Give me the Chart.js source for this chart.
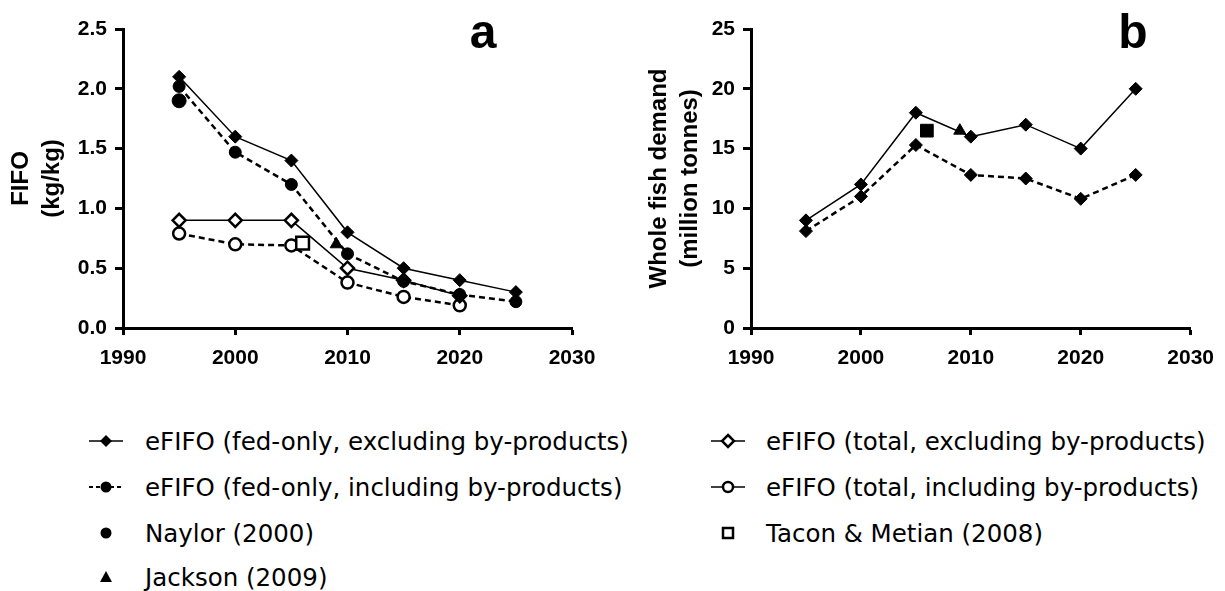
<!DOCTYPE html>
<html>
<head>
<meta charset="utf-8">
<script src="https://cdn.jsdelivr.net/npm/chart.js@4/dist/chart.umd.min.js"></script>
<style>
  body { margin: 0; background: #fff; width: 1225px; height: 591px; position: relative; overflow: hidden; }
  .box { position: absolute; top: 0; }
  .letter { position: absolute; font: bold 48px "Liberation Sans", Arial, sans-serif; transform: translate(-50%, -50%); line-height: 1; }
  .leg { position: absolute; font: 24.5px "DejaVu Sans", sans-serif; color: #000; white-space: nowrap; transform: translateY(-50%); }
  .sym { position: absolute; transform: translateY(-50%); }
</style>
</head>
<body>
<div class="box" style="left:0"><canvas id="graficoA" width="610" height="380"></canvas></div>
<div class="box" style="left:620px"><canvas id="graficoB" width="605" height="380"></canvas></div>
<div class="letter" style="left:483px;top:32px">a</div>
<div class="letter" style="left:1133px;top:32px">b</div>
<div id="legenda"></div>

<script>
// dados
const anos = [1995, 2000, 2005, 2010, 2015, 2020, 2025];
const anosTotal = [1995, 2000, 2005, 2010, 2015, 2020];

// painel a - FIFO (kg/kg)
const fedExclA = [2.1, 1.6, 1.4, 0.8, 0.5, 0.4, 0.3];
const fedInclA = [2.02, 1.47, 1.2, 0.62, 0.39, 0.28, 0.22];
const totalExclA = [0.9, 0.9, 0.9, 0.5, 0.4, 0.27];
const totalInclA = [0.79, 0.7, 0.69, 0.38, 0.26, 0.19];

// painel b - procura de peixe inteiro (milhões de toneladas)
const fedExclB = [9, 12, 18, 16, 17, 15, 20];
const fedInclB = [8.1, 11.0, 15.3, 12.8, 12.5, 10.8, 12.8];

// estudos de referência
const naylorAno = [1995];
const naylorA = [1.9];
const jacksonAno = [2009];
const jacksonA = [0.7];
const jacksonB = [16.5];
const taconAno = [2006];
const taconA = [0.71];
const taconB = [16.5];

const ticksX = [1990, 2000, 2010, 2020, 2030];

const legendas = [
  'eFIFO (fed-only, excluding by-products)',
  'eFIFO (fed-only, including by-products)',
  'Naylor (2000)',
  'Jackson (2009)',
  'eFIFO (total, excluding by-products)',
  'eFIFO (total, including by-products)',
  'Tacon & Metian (2008)'
];

const pontos = (xs, ys) => xs.map((x, i) => ({ x: x, y: ys[i] }));

function serie(label, xs, ys, estilo) {
  return Object.assign({
    label: label,
    data: pontos(xs, ys),
    borderColor: '#000',
    pointBorderColor: '#000',
    backgroundColor: '#000',
    pointBackgroundColor: '#000',
    borderWidth: 1.5,
    pointBorderWidth: 1,
    tension: 0,
    fill: false
  }, estilo);
}

function opcoes(yMax, yStep, titulo, casas, largY, padTitulo, padDir) {
  return {
    responsive: false,
    animation: false,
    layout: { padding: { top: 29, right: padDir, bottom: 0, left: 0 } },
    plugins: { legend: { display: false }, tooltip: { enabled: false } },
    scales: {
      x: {
        type: 'linear', min: 1990, max: 2030,
        afterFit: s => { s.height = 52; },
        afterBuildTicks: s => { s.ticks = ticksX.map(v => ({ value: v })); },
        border: { display: true, color: '#000', width: 3 },
        grid: { drawOnChartArea: false, drawTicks: true, tickLength: 7, tickWidth: 3, tickColor: '#000' },
        ticks: {
          color: '#000', padding: 11, maxRotation: 0,
          font: { family: 'Liberation Sans', size: 21, weight: 'bold' },
          callback: v => String(v)
        }
      },
      y: {
        min: 0, max: yMax,
        afterFit: s => { s.width = largY; },
        border: { display: true, color: '#000', width: 3 },
        grid: { drawOnChartArea: false, drawTicks: true, tickLength: 8, tickWidth: 3, tickColor: '#000' },
        ticks: {
          stepSize: yStep, color: '#000', padding: 8,
          font: { family: 'Liberation Sans', size: 21, weight: 'bold' },
          callback: v => v.toFixed(casas)
        },
        title: {
          display: true, text: titulo, color: '#000',
          padding: { top: padTitulo, bottom: 0 },
          font: { family: 'Liberation Sans', size: 24, weight: 'bold', lineHeight: '31px' }
        }
      }
    }
  };
}

const tracejado = [6, 4];

new Chart(document.getElementById('graficoA'), {
  type: 'line',
  data: {
    datasets: [
      serie('Jackson', jacksonAno, jacksonA, { showLine: false, pointStyle: 'triangle', pointRadius: 7 }),
      serie('Tacon', taconAno, taconA, { showLine: false, pointStyle: 'rect', pointRadius: 9, pointBackgroundColor: '#fff', pointBorderWidth: 2.5 }),
      serie('Naylor', naylorAno, naylorA, { showLine: false, pointStyle: 'circle', pointRadius: 7 }),
      serie(legendas[0], anos, fedExclA, { pointStyle: 'rectRot', pointRadius: 6.5 }),
      serie(legendas[1], anos, fedInclA, { borderDash: tracejado, borderWidth: 2.5, pointStyle: 'circle', pointRadius: 6 }),
      serie(legendas[4], anosTotal, totalExclA, { pointStyle: 'rectRot', pointRadius: 6.5, pointBackgroundColor: '#fff', pointBorderWidth: 2.5 }),
      serie(legendas[5], anosTotal, totalInclA, { borderDash: tracejado, borderWidth: 2.5, pointStyle: 'circle', pointRadius: 6, pointBackgroundColor: '#fff', pointBorderWidth: 2.5 })
    ]
  },
  options: opcoes(2.5, 0.5, ['FIFO', '(kg/kg)'], 1, 123, 6, 38)
});

new Chart(document.getElementById('graficoB'), {
  type: 'line',
  data: {
    datasets: [
      serie('Jackson', jacksonAno, jacksonB, { showLine: false, pointStyle: 'triangle', pointRadius: 7 }),
      serie('Tacon', taconAno, taconB, { showLine: false, pointStyle: 'rect', pointRadius: 9 }),
      serie(legendas[0], anos, fedExclB, { pointStyle: 'rectRot', pointRadius: 6.5 }),
      serie(legendas[1], anos, fedInclB, { borderDash: tracejado, borderWidth: 2.5, pointStyle: 'rectRot', pointRadius: 6.5 })
    ]
  },
  options: opcoes(25, 5, ['Whole fish demand', '(million tonnes)'], 0, 131, 24, 25)
});

// legenda em HTML
const simbolos = {
  linhaDiamante: '<line x1="2" y1="10" x2="36" y2="10" stroke="#000" stroke-width="1.5"/><polygon points="19,4 25,10 19,16 13,10" fill="#000"/>',
  tracoCirculo: '<line x1="2" y1="10" x2="36" y2="10" stroke="#000" stroke-width="2" stroke-dasharray="4,3"/><circle cx="19" cy="10" r="5.5" fill="#000"/>',
  circulo: '<circle cx="19" cy="10" r="5.5" fill="#000"/>',
  triangulo: '<polygon points="19,4 25,15 13,15" fill="#000"/>',
  linhaDiamanteAberto: '<line x1="2" y1="10" x2="36" y2="10" stroke="#000" stroke-width="1.5"/><polygon points="19,4 25,10 19,16 13,10" fill="#fff" stroke="#000" stroke-width="2.5"/>',
  linhaCirculoAberto: '<line x1="2" y1="10" x2="36" y2="10" stroke="#000" stroke-width="1.5"/><circle cx="19" cy="10" r="5" fill="#fff" stroke="#000" stroke-width="2.5"/>',
  quadrado: '<rect x="14" y="5" width="10" height="10" fill="#fff" stroke="#000" stroke-width="2.5"/>'
};
const itensLegenda = [
  [legendas[0], 'linhaDiamante', 87, 145, 441],
  [legendas[1], 'tracoCirculo', 87, 145, 487],
  [legendas[2], 'circulo', 87, 145, 533],
  [legendas[3], 'triangulo', 87, 145, 577],
  [legendas[4], 'linhaDiamanteAberto', 709, 766, 441],
  [legendas[5], 'linhaCirculoAberto', 709, 766, 487],
  [legendas[6], 'quadrado', 709, 766, 533]
];
const leg = document.getElementById('legenda');
itensLegenda.forEach(([txt, sym, xs, xt, y]) => {
  leg.insertAdjacentHTML('beforeend',
    `<svg class="sym" width="38" height="20" style="left:${xs}px;top:${y}px">${simbolos[sym]}</svg>` +
    `<div class="leg" style="left:${xt}px;top:${y}px"></div>`);
  leg.lastElementChild.textContent = txt;
});
</script>
</body>
</html>
